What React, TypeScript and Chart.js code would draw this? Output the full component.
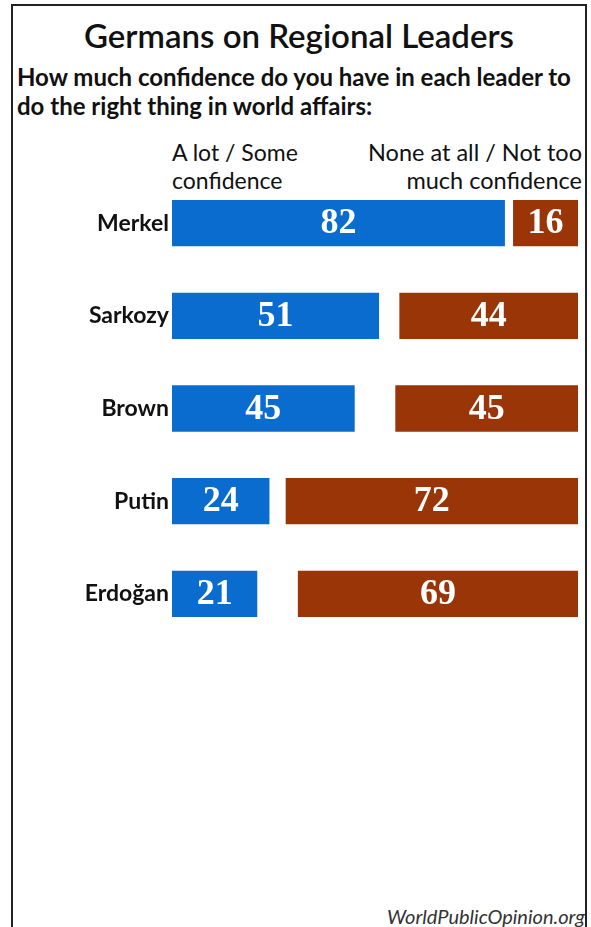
import React, { useEffect, useRef } from "react";
import { Chart, registerables } from "chart.js";

Chart.register(...registerables);

const leaders = ["Merkel", "Sarkozy", "Brown", "Putin", "Erdoğan"];
const confidence = [82, 51, 45, 24, 21];
const noConfidence = [16, 44, 45, 72, 69];
const scaleMax = 100;

const BLUE = "#0a6ccf";
const BROWN = "#9a3508";

const valueLabels = {
  id: "valueLabels",
  afterDatasetsDraw(chart: any) {
    const ctx = chart.ctx;
    ctx.save();
    ctx.fillStyle = "#ffffff";
    ctx.font = "bold 36px 'Liberation Serif', 'DejaVu Serif', serif";
    ctx.textAlign = "center";
    ctx.textBaseline = "middle";
    chart.data.datasets.forEach((ds: any, di: number) => {
      const meta = chart.getDatasetMeta(di);
      meta.data.forEach((bar: any, i: number) => {
        const raw = ds.values[i];
        const cx = (bar.x + bar.base) / 2;
        ctx.fillText(String(raw), cx, bar.y + 1);
      });
    });
    ctx.restore();
  },
};

export default function App() {
  const canvasRef = useRef<HTMLCanvasElement | null>(null);

  useEffect(() => {
    if (!canvasRef.current) return;
    const chart = new Chart(canvasRef.current, {
      type: "bar",
      data: {
        labels: leaders,
        datasets: [
          {
            label: "A lot / Some confidence",
            data: confidence.map((v) => [0, v]),
            values: confidence,
            backgroundColor: BLUE,
            grouped: false,
            barPercentage: 0.5,
            categoryPercentage: 1,
          } as any,
          {
            label: "None at all / Not too much confidence",
            data: noConfidence.map((v) => [scaleMax - v, scaleMax]),
            values: noConfidence,
            backgroundColor: BROWN,
            grouped: false,
            barPercentage: 0.5,
            categoryPercentage: 1,
          } as any,
        ],
      },
      options: {
        indexAxis: "y",
        animation: false,
        responsive: false,
        maintainAspectRatio: false,
        layout: { padding: { left: 0, right: 8, top: 0, bottom: 0 } },
        plugins: {
          legend: { display: false },
          tooltip: { enabled: false },
          title: { display: false },
        },
        scales: {
          x: {
            display: false,
            min: 0,
            max: scaleMax,
          },
          y: {
            grid: { display: false, drawTicks: false },
            border: { display: false },
            ticks: {
              color: "#111111",
              padding: 3,
              font: { family: "Lato, 'Open Sans', sans-serif", size: 23, weight: "bold", lineHeight: 1.2 },
            },
            afterFit: (s: any) => {
              s.width = 160;
            },
          },
        },
      },
      plugins: [valueLabels],
    });
    return () => chart.destroy();
  }, []);

  const font = "Lato, 'Open Sans', sans-serif";

  return (
    <div
      style={{
        position: "absolute",
        left: 0,
        top: 0,
        width: 591,
        height: 927,
        background: "#ffffff",
        overflow: "hidden",
        fontFamily: font,
        color: "#111111",
      }}
    >
      <div
        style={{
          position: "absolute",
          left: 11,
          top: 4,
          width: 572,
          height: 940,
          border: "2px solid #222222",
          borderBottom: "none",
        }}
      />
      <div
        style={{
          position: "absolute",
          left: 12,
          width: 574,
          top: 14,
          textAlign: "center",
          fontSize: 33,
          fontWeight: 600,
          lineHeight: "42px",
        }}
      >
        Germans on Regional Leaders
      </div>
      <div
        style={{
          position: "absolute",
          left: 17,
          width: 572,
          top: 62,
          fontSize: 24,
          fontWeight: 700,
          lineHeight: "29px",
          whiteSpace: "nowrap",
        }}
      >
        How much confidence do you have in each leader to
        <br />
        do the right thing in world affairs:
      </div>
      <div
        style={{
          position: "absolute",
          left: 172,
          top: 138,
          fontSize: 23,
          lineHeight: "28px",
          whiteSpace: "nowrap",
        }}
      >
        A lot / Some
        <br />
        confidence
      </div>
      <div
        style={{
          position: "absolute",
          right: 9,
          top: 138,
          fontSize: 23.5,
          lineHeight: "28px",
          textAlign: "right",
          whiteSpace: "nowrap",
        }}
      >
        None at all / Not too
        <br />
        much confidence
      </div>
      <canvas
        ref={canvasRef}
        width={574}
        height={497}
        style={{ position: "absolute", left: 12, top: 160, width: 574, height: 497 }}
      />
      <div
        style={{
          position: "absolute",
          right: 6,
          top: 904,
          fontSize: 20,
          fontStyle: "italic",
          color: "#333333",
          whiteSpace: "nowrap",
        }}
      >
        WorldPublicOpinion.org
      </div>
    </div>
  );
}
